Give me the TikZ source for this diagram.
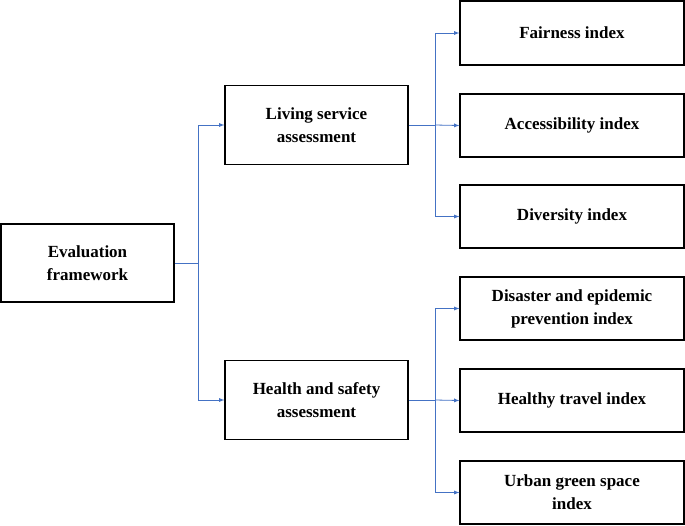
\documentclass[tikz,border=0pt]{standalone}
\usepackage{fontspec}
\setmainfont{Liberation Serif}
\begin{document}
\begin{tikzpicture}[x=1pt,y=-1pt,
 box/.style={draw,line width=1.2pt,align=center,font=\fontsize{17}{23}\selectfont\bfseries,inner sep=0pt},
 conn/.style={draw={rgb,255:red,68;green,114;blue,196},line width=0.8pt,-latex}]
\useasboundingbox (0,0) rectangle (685,525);
\node[box,minimum width=173,minimum height=78] (ev) at (87.5,263) {Evaluation\\framework};
\node[box,minimum width=183,minimum height=79] (ls) at (316.5,125) {Living service\\assessment};
\node[box,minimum width=183,minimum height=79] (hs) at (316.5,400) {Health and safety\\assessment};
\node[box,minimum width=224,minimum height=64] (f) at (572,33) {Fairness index};
\node[box,minimum width=224,minimum height=63] (a) at (572,125.5) {Accessibility index};
\node[box,minimum width=224,minimum height=63] (d) at (572,216.5) {Diversity index};
\node[box,minimum width=224,minimum height=63] (dp) at (572,308.5) {Disaster and epidemic\\prevention index};
\node[box,minimum width=224,minimum height=63] (ht) at (572,400.5) {Healthy travel index};
\node[box,minimum width=224,minimum height=63] (ug) at (572,492.5) {Urban green space\\index};
\coordinate (j0) at (198,263);
\coordinate (j1) at (435,125);
\coordinate (j2) at (435,400);
\draw[conn,-] (ev.east) -- (j0);
\draw[conn] (j0) |- (ls.west);
\draw[conn] (j0) |- (hs.west);
\draw[conn,-] (ls.east) -- (j1);
\draw[conn] (j1) |- (f.west);
\draw[conn] (j1) -- (a.west);
\draw[conn] (j1) |- (d.west);
\draw[conn,-] (hs.east) -- (j2);
\draw[conn] (j2) |- (dp.west);
\draw[conn] (j2) -- (ht.west);
\draw[conn] (j2) |- (ug.west);
\end{tikzpicture}
\end{document}
